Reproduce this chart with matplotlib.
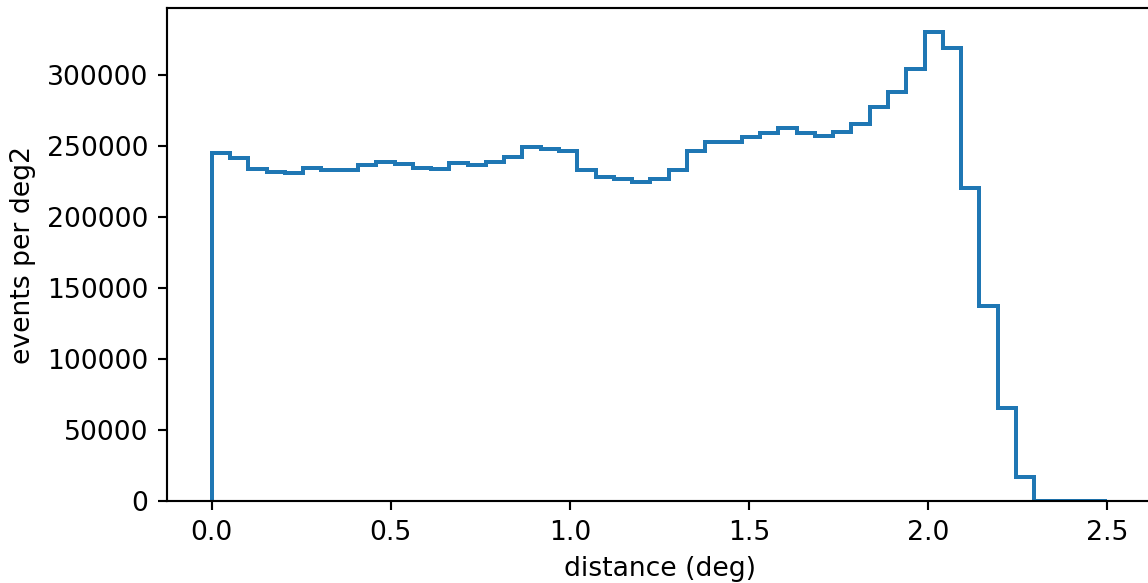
import numpy as np
import matplotlib
matplotlib.use("Agg")
import matplotlib.pyplot as plt

# events per deg2 in each distance bin
bin_edges = np.linspace(0.0, 2.5, 50)
counts = [
    245400, 242100, 234100, 232200, 231300, 234800, 233400, 233200, 237000, 239100,
    237400, 234800, 234100, 238400, 237200, 238800, 242600, 249700, 248500, 246600,
    233200, 228200, 227300, 224700, 226800, 233400, 247100, 253200, 253400, 256500,
    259100, 262800, 259300, 257600, 260200, 265900, 277900, 288700, 304500, 330800,
    319100, 220500, 137400, 65400, 17200, 0, 0, 0, 0,
]

DPI = 192
fig = plt.figure(figsize=(1148 / DPI, 583 / DPI), dpi=DPI)
ax = fig.add_axes([0.1455, 0.1407, 0.858, 0.845])

ax.hist(bin_edges[:-1], bins=bin_edges, weights=counts, histtype="step", linewidth=1.5)
ax.set_xlabel("distance (deg)")
ax.set_ylabel("events per deg2")

fig.savefig("out.png", dpi=DPI)
